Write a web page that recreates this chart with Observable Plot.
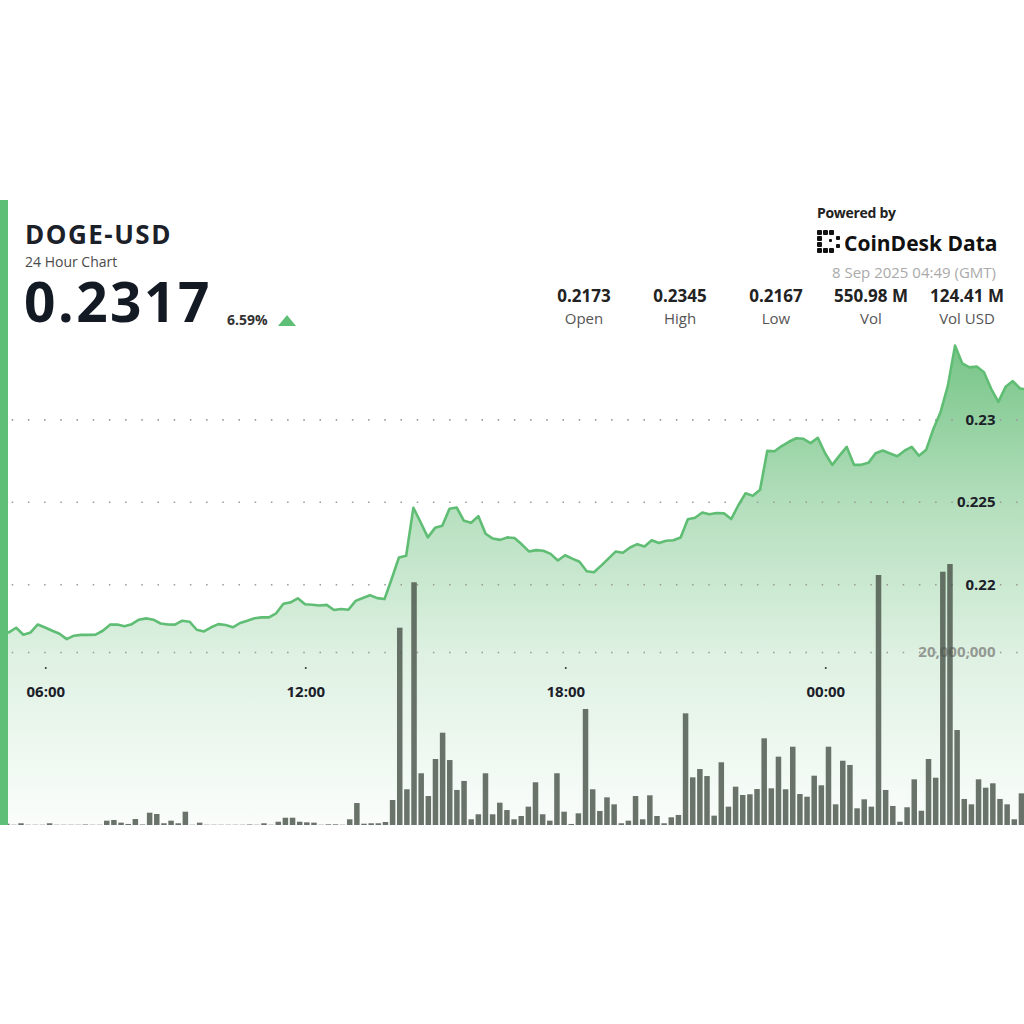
<!DOCTYPE html>
<html>
<head>
<meta charset="utf-8">
<script src="https://cdn.jsdelivr.net/npm/d3@7"></script>
<script src="https://cdn.jsdelivr.net/npm/@observablehq/plot@0.6"></script>
<style>
html,body{margin:0;padding:0;background:#fff;width:1024px;height:1024px;overflow:hidden;font-family:"Open Sans",sans-serif;}
#card{position:absolute;left:0;top:200px;width:1024px;height:625px;background:#fff;overflow:hidden;border-top-right-radius:10px;}
.layer{position:absolute;top:0;}
#priceLayer{left:-6px;}
#volLayer{left:-4px;}
#edge{position:absolute;left:0;top:0;width:8px;height:625px;background:#5fbf77;}
#header{position:absolute;left:0;top:0;}
</style>
</head>
<body>
<div id="card">
  <div id="priceLayer" class="layer"></div>
  <div id="volLayer" class="layer"></div>
  <div id="edge"></div>
</div>
<svg id="header" width="1024" height="340" xmlns="http://www.w3.org/2000/svg" font-family="Open Sans"></svg>
<script>
// ---------- data ----------
const startTime = Date.UTC(2025, 8, 7, 4, 49); // 10-minute samples
const stepMs = 10 * 60 * 1000;

const prices = [
0.2173, 0.21715, 0.21711, 0.21739, 0.21697, 0.21711, 0.21759, 0.21741, 0.21721, 0.21703,
0.2167, 0.21691, 0.21696, 0.21696, 0.21697, 0.21721, 0.21758, 0.21759, 0.21748, 0.21761,
0.21788, 0.21796, 0.21788, 0.21765, 0.21759, 0.21758, 0.21782, 0.21776, 0.21727, 0.21717,
0.21742, 0.21761, 0.21756, 0.21742, 0.21768, 0.21782, 0.21797, 0.21802, 0.21802, 0.21827,
0.21885, 0.21893, 0.21918, 0.21882, 0.21879, 0.21874, 0.21878, 0.21847, 0.21853, 0.21848,
0.21902, 0.2192, 0.21936, 0.21919, 0.21913, 0.22036, 0.22165, 0.22176, 0.22467, 0.22379,
0.22287, 0.22345, 0.22358, 0.22461, 0.22468, 0.22388, 0.22376, 0.22416, 0.22309, 0.2228,
0.22272, 0.22287, 0.22283, 0.22245, 0.22202, 0.2221, 0.22206, 0.22187, 0.22147, 0.22179,
0.22158, 0.22139, 0.22082, 0.22076, 0.22116, 0.22158, 0.22201, 0.22194, 0.22226, 0.22246,
0.22232, 0.2227, 0.22253, 0.22267, 0.2227, 0.22286, 0.22397, 0.22406, 0.22438, 0.22427,
0.22435, 0.22433, 0.22398, 0.22482, 0.22555, 0.22539, 0.22576, 0.22812, 0.22809, 0.22841,
0.22867, 0.22888, 0.22885, 0.22859, 0.22891, 0.22797, 0.22727, 0.22783, 0.22836, 0.22727,
0.22727, 0.22739, 0.22797, 0.22814, 0.22796, 0.22779, 0.22813, 0.22836, 0.22782, 0.22818,
0.22945, 0.23048, 0.23206, 0.2345, 0.23342, 0.23318, 0.23323, 0.23288, 0.23188, 0.23109,
0.232, 0.23235, 0.2319, 0.23185, 0.2317
];

// volume per 10-minute bar, in millions
const volumesM = [
0.03,0.15,0.03,0.2,0.03,0.03,0.03,0.2,0.03,0.03,
0.03,0.03,0.06,0.03,0.03,0.5,0.58,0.27,0.12,0.69,
0.06,1.42,1.27,0.2,0.5,0.2,1.54,0.03,0.27,0.03,
0.03,0.03,0.03,0.03,0.03,0.06,0.03,0.2,0.03,0.38,
0.84,0.84,0.38,0.31,0.27,0.03,0.08,0.08,0.03,0.66,
2.54,0.15,0.2,0.2,0.35,2.89,22.81,4.13,28.06,5.98,
3.35,7.63,10.67,7.51,4.05,5.09,0.66,1.24,5.98,1.24,
2.58,1.73,0.66,1.04,2.12,4.94,1.24,0.5,5.98,1.54,
0.12,1.35,13.41,4.13,1.62,3.2,2.39,0.2,0.5,3.35,
0.66,3.43,1.04,0.2,0.89,1.16,12.91,5.51,6.47,5.66,
1.08,7.25,2.12,4.43,3.47,3.55,4.16,10.02,4.24,7.9,
4.13,9.05,3.58,3.27,5.7,4.59,9.05,2.39,7.43,6.94,
1.93,2.97,2.12,28.9,4.05,2.2,0.38,2.05,5.28,1.65,
7.63,5.47,29.28,30.17,10.98,3.01,2.39,5.28,4.31,4.82,
3.01,2.39,0.66,3.66
];

const xTicks = ["2025-09-07T06:00:00Z", "2025-09-07T12:00:00Z", "2025-09-07T18:00:00Z", "2025-09-08T00:00:00Z"].map(s => new Date(s));
const priceTicks = [0.22, 0.225, 0.23];
const volTicksM = [20];

const symbol = "DOGE-USD";
const subtitle = "24 Hour Chart";
const lastPrice = "0.2317";
const changePct = "6.59%";
const statValues = ["0.2173", "0.2345", "0.2167", "550.98 M", "124.41 M"];
const statLabels = ["Open", "High", "Low", "Vol", "Vol USD"];
const timestampText = "8 Sep 2025 04:49 (GMT)";

// ---------- tables ----------
const priceData = prices.map((p, i) => ({t: new Date(startTime + i * stepMs), p}));
const volData = volumesM.map((v, i) => ({t: new Date(startTime + i * stepMs), v}));

const font = "Open Sans";
const dark = "#1b2029";

// ---------- price layer ----------
const yDomain = [0.2054, 0.2433];
const gradientDefs = () => {
  const defs = document.createElementNS("http://www.w3.org/2000/svg", "defs");
  defs.innerHTML = `<linearGradient id="areaGrad" gradientUnits="userSpaceOnUse" x1="0" y1="140" x2="0" y2="625">
    <stop offset="0" stop-color="#5cb96f" stop-opacity="0.85"/>
    <stop offset="0.35" stop-color="#5cb96f" stop-opacity="0.45"/>
    <stop offset="0.65" stop-color="#5cb96f" stop-opacity="0.2"/>
    <stop offset="1" stop-color="#5cb96f" stop-opacity="0.03"/>
  </linearGradient>`;
  return defs;
};

const pricePlot = Plot.plot({
  width: 1040, height: 625,
  marginTop: 0, marginBottom: 0, marginLeft: 0, marginRight: 0,
  style: {background: "transparent", maxWidth: "none", fontFamily: font},
  x: {type: "utc", domain: [priceData[0].t, priceData[priceData.length - 1].t], axis: null},
  y: {domain: yDomain, axis: null},
  marks: [
    gradientDefs,
    Plot.areaY(priceData, {x: "t", y1: () => yDomain[0], y2: "p", fill: "url(#areaGrad)"}),
    Plot.ruleY(priceTicks, {y: d => d, stroke: "#9a9a9a", strokeWidth: 1.6, strokeDasharray: "1.5,14.7", strokeDashoffset: 14.7}),
    Plot.lineY(priceData, {x: "t", y: "p", stroke: "#5fbd74", strokeWidth: 2.6, strokeLinejoin: "round"}),
    Plot.text(priceTicks, {y: d => d, text: d => String(d), frameAnchor: "right", textAnchor: "end", dx: -39, fill: dark, fontWeight: "bold", fontSize: 15, fontFamily: font}),
    Plot.dot(xTicks, {x: d => d, frameAnchor: "bottom", dy: -157.5, r: 1, fill: "#333", stroke: null}),
    Plot.text(xTicks, {x: d => d, frameAnchor: "bottom", dy: -128.5, text: d => d3.utcFormat("%H:%M")(d), fill: dark, fontWeight: "bold", fontSize: 15, fontFamily: font})
  ]
});
document.getElementById("priceLayer").appendChild(pricePlot);

// ---------- volume layer ----------
const volPlot = Plot.plot({
  width: 1029, height: 625,
  marginTop: 0, marginBottom: 0, marginLeft: 0, marginRight: 0,
  style: {background: "transparent", maxWidth: "none", fontFamily: font},
  x: {type: "band", domain: volData.map(d => d.t), paddingInner: 0.23, paddingOuter: 0.115, round: false, axis: null},
  y: {domain: [0, 72.25], axis: null},
  marks: [
    Plot.ruleY(volTicksM, {y: d => d, stroke: "#9a9a9a", strokeWidth: 1.6, strokeDasharray: "1.5,14.7", strokeDashoffset: 0.5}),
    Plot.text(volTicksM, {y: d => d, text: d => d3.format(",")(d * 1e6), frameAnchor: "right", textAnchor: "end", dx: -30, fill: "#939993", fontWeight: "bold", fontSize: 15, fontFamily: font}),
    Plot.barY(volData, {x: "t", y: "v", fill: "#4a544a", fillOpacity: 0.82})
  ]
});
document.getElementById("volLayer").appendChild(volPlot);

// ---------- header ----------
const hdr = d3.select("#header");
hdr.append("text").attr("x", 25).attr("y", 244).attr("font-size", 26).attr("font-weight", "bold").attr("fill", dark).attr("letter-spacing", 1.5).text(symbol);
hdr.append("text").attr("x", 25).attr("y", 267).attr("font-size", 14).attr("fill", "#4a4a4a").text(subtitle);
hdr.append("text").attr("x", 24).attr("y", 322).attr("font-size", 55).attr("font-weight", "bold").attr("fill", "#141a24").attr("letter-spacing", 2.5).text(lastPrice);
hdr.append("text").attr("x", 227).attr("y", 325).attr("font-size", 14).attr("font-weight", "bold").attr("fill", "#333").text(changePct);
hdr.append("path").attr("d", "M278,326L296,326L287,315Z").attr("fill", "#5fbf77");

hdr.append("text").attr("x", 817).attr("y", 218).attr("font-size", 14).attr("font-weight", "bold").attr("fill", "#222").attr("letter-spacing", -0.3).text("Powered by");
const logo = hdr.append("g").attr("fill", "#111");
[[817,230,5,5],[817,236,5,5],[817,242,5,5],[817,248,5,5],
 [823,230,5,5],[829,230,5,5],[823,248,5,5],[829,248,5,5],
 [836,236,4,4],[836,244,4,4],[829,239,3,3]].forEach(r =>
  logo.append("rect").attr("x", r[0]).attr("y", r[1]).attr("width", r[2]).attr("height", r[3]).attr("rx", 1));
hdr.append("text").attr("x", 844).attr("y", 251).attr("font-size", 21).attr("font-weight", "bold").attr("fill", "#111").text("CoinDesk Data");
hdr.append("text").attr("x", 996).attr("y", 278).attr("text-anchor", "end").attr("font-size", 15).attr("fill", "#aaa").text(timestampText);

const statX = [584, 680, 776, 871, 967];
statValues.forEach((v, i) => {
  hdr.append("text").attr("x", statX[i]).attr("y", 302).attr("text-anchor", "middle").attr("font-size", 17).attr("font-weight", "bold").attr("fill", "#222").text(v);
  hdr.append("text").attr("x", statX[i]).attr("y", 324).attr("text-anchor", "middle").attr("font-size", 15).attr("fill", "#555").text(statLabels[i]);
});
</script>
</body>
</html>
